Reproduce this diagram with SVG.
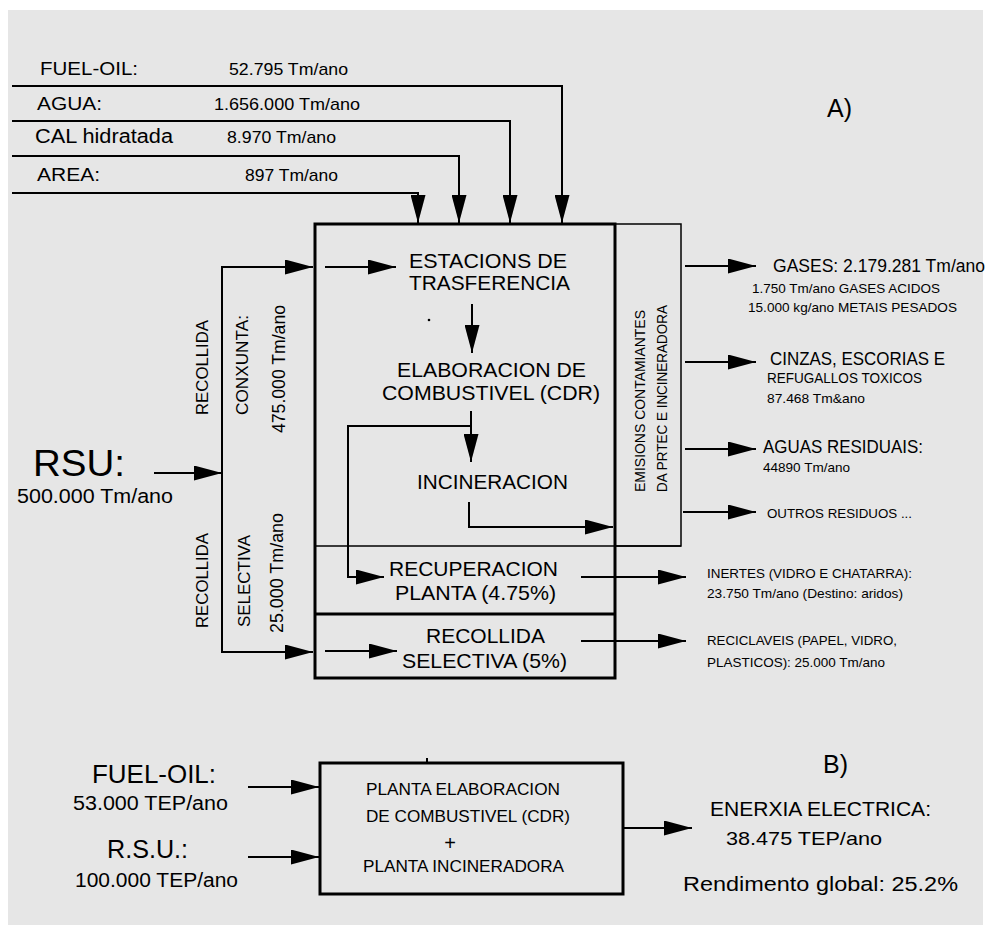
<svg xmlns="http://www.w3.org/2000/svg" width="989" height="933" viewBox="0 0 989 933">
<defs>
<marker id="ah" markerUnits="userSpaceOnUse" markerWidth="28" markerHeight="15" refX="28" refY="7.5" orient="auto" viewBox="0 0 28 15">
<path d="M0,0 L28,7.5 L0,15 z" fill="#000"/>
</marker>
<style>
text{font-family:"Liberation Sans",Arial,Helvetica,sans-serif;fill:#000}
.c{fill:none;stroke:#000;stroke-width:2}
.a{marker-end:url(#ah)}
.box{fill:none;stroke:#000;stroke-width:3}
.thin{fill:none;stroke:#000;stroke-width:1.5}
</style>
</defs>
<rect x="0" y="0" width="989" height="933" fill="#ffffff"/>
<rect x="8" y="10" width="975" height="915" fill="#e6e6e6"/>

<g id="inputs-top">
<text x="40" y="75" font-size="19" textLength="98" lengthAdjust="spacingAndGlyphs">FUEL-OIL:</text>
<text x="229" y="75" font-size="17" textLength="119" lengthAdjust="spacingAndGlyphs">52.795 Tm/ano</text>
<text x="37" y="110" font-size="19" textLength="65" lengthAdjust="spacingAndGlyphs">AGUA:</text>
<text x="214" y="110" font-size="17" textLength="146" lengthAdjust="spacingAndGlyphs">1.656.000 Tm/ano</text>
<text x="35" y="143" font-size="19.5" textLength="138" lengthAdjust="spacingAndGlyphs">CAL hidratada</text>
<text x="227" y="143" font-size="17" textLength="109" lengthAdjust="spacingAndGlyphs">8.970 Tm/ano</text>
<text x="37" y="181" font-size="19" textLength="63" lengthAdjust="spacingAndGlyphs">AREA:</text>
<text x="245" y="181" font-size="17" textLength="93" lengthAdjust="spacingAndGlyphs">897 Tm/ano</text>
</g>
<g id="label-A"><text x="827" y="117" font-size="25">A)</text></g>

<g id="rsu">
<text x="33" y="476" font-size="36" textLength="92" lengthAdjust="spacingAndGlyphs">RSU:</text>
<text x="17" y="503" font-size="20.5" textLength="156" lengthAdjust="spacingAndGlyphs">500.000 Tm/ano</text>
</g>

<g id="collection-labels">
<text transform="translate(208,367.5) rotate(-90)" text-anchor="middle" font-size="17" textLength="95" lengthAdjust="spacingAndGlyphs">RECOLLIDA</text>
<text transform="translate(248,365) rotate(-90)" text-anchor="middle" font-size="17" textLength="100" lengthAdjust="spacingAndGlyphs">CONXUNTA:</text>
<text transform="translate(285,369) rotate(-90)" text-anchor="middle" font-size="17.5" textLength="128" lengthAdjust="spacingAndGlyphs">475.000 Tm/ano</text>
<text transform="translate(208,580.5) rotate(-90)" text-anchor="middle" font-size="17" textLength="95" lengthAdjust="spacingAndGlyphs">RECOLLIDA</text>
<text transform="translate(250,581) rotate(-90)" text-anchor="middle" font-size="17" textLength="92" lengthAdjust="spacingAndGlyphs">SELECTIVA</text>
<text transform="translate(283,573) rotate(-90)" text-anchor="middle" font-size="17.5" textLength="120" lengthAdjust="spacingAndGlyphs">25.000 Tm/ano</text>
</g>

<g id="main-box">
<rect class="box" x="315" y="224" width="300" height="454"/>
<line class="thin" x1="315" y1="546" x2="681" y2="546"/>
<line class="box" x1="315" y1="614" x2="615" y2="614"/>
</g>

<g id="emissions-box">
<rect class="thin" x="615" y="224" width="66" height="322"/>
<text transform="translate(645,401) rotate(-90)" text-anchor="middle" font-size="14.5" textLength="182" lengthAdjust="spacingAndGlyphs">EMISIONS CONTAMIANTES</text>
<text transform="translate(667,398.5) rotate(-90)" text-anchor="middle" font-size="14.5" textLength="187" lengthAdjust="spacingAndGlyphs">DA PRTEC E INCINERADORA</text>
</g>

<g id="estacions">
<text x="409" y="268" font-size="21" textLength="158" lengthAdjust="spacingAndGlyphs">ESTACIONS DE</text>
<text x="409" y="290" font-size="21" textLength="161" lengthAdjust="spacingAndGlyphs">TRASFERENCIA</text>
</g>
<g id="elaboracion">
<text x="397" y="377" font-size="21" textLength="189" lengthAdjust="spacingAndGlyphs">ELABORACION DE</text>
<text x="382" y="400" font-size="21" textLength="218" lengthAdjust="spacingAndGlyphs">COMBUSTIVEL (CDR)</text>
</g>
<g id="incineracion">
<text x="417" y="489" font-size="21" textLength="151" lengthAdjust="spacingAndGlyphs">INCINERACION</text>
</g>
<g id="recuperacion">
<text x="389" y="576" font-size="21" textLength="169" lengthAdjust="spacingAndGlyphs">RECUPERACION</text>
<text x="395" y="600" font-size="21" textLength="161" lengthAdjust="spacingAndGlyphs">PLANTA (4.75%)</text>
</g>
<g id="recollida-selectiva">
<text x="426" y="643" font-size="21" textLength="119" lengthAdjust="spacingAndGlyphs">RECOLLIDA</text>
<text x="402" y="668" font-size="21" textLength="165" lengthAdjust="spacingAndGlyphs">SELECTIVA (5%)</text>
</g>

<g id="outputs">
<text x="773" y="272" font-size="17.5" textLength="212" lengthAdjust="spacingAndGlyphs">GASES: 2.179.281 Tm/ano</text>
<text x="752" y="293" font-size="13" textLength="188" lengthAdjust="spacingAndGlyphs">1.750 Tm/ano GASES ACIDOS</text>
<text x="748" y="312" font-size="13" textLength="209" lengthAdjust="spacingAndGlyphs">15.000 kg/ano METAIS PESADOS</text>
<text x="770" y="365" font-size="18.5" textLength="175" lengthAdjust="spacingAndGlyphs">CINZAS, ESCORIAS E</text>
<text x="767" y="383" font-size="14" textLength="155" lengthAdjust="spacingAndGlyphs">REFUGALLOS TOXICOS</text>
<text x="767" y="403" font-size="13.5" textLength="98" lengthAdjust="spacingAndGlyphs">87.468 Tm&amp;ano</text>
<text x="763" y="453" font-size="17.5" textLength="160" lengthAdjust="spacingAndGlyphs">AGUAS RESIDUAIS:</text>
<text x="763" y="472" font-size="13.5" textLength="87" lengthAdjust="spacingAndGlyphs">44890 Tm/ano</text>
<text x="767" y="518" font-size="13.5" textLength="145" lengthAdjust="spacingAndGlyphs">OUTROS RESIDUOS ...</text>
<text x="707" y="578" font-size="13.5" textLength="205" lengthAdjust="spacingAndGlyphs">INERTES (VIDRO E CHATARRA):</text>
<text x="707" y="598" font-size="13.5" textLength="196" lengthAdjust="spacingAndGlyphs">23.750 Tm/ano (Destino: aridos)</text>
<text x="707" y="645" font-size="13.5" textLength="190" lengthAdjust="spacingAndGlyphs">RECICLAVEIS (PAPEL, VIDRO,</text>
<text x="707" y="667" font-size="13.5" textLength="178" lengthAdjust="spacingAndGlyphs">PLASTICOS): 25.000 Tm/ano</text>
</g>

<g id="inputs-B">
<text x="92" y="783" font-size="25" textLength="124" lengthAdjust="spacingAndGlyphs">FUEL-OIL:</text>
<text x="73" y="810" font-size="19.5" textLength="155" lengthAdjust="spacingAndGlyphs">53.000 TEP/ano</text>
<text x="107" y="858" font-size="26" textLength="81" lengthAdjust="spacingAndGlyphs">R.S.U.:</text>
<text x="75" y="887" font-size="19.5" textLength="163" lengthAdjust="spacingAndGlyphs">100.000 TEP/ano</text>
</g>
<g id="label-B"><text x="823" y="773" font-size="25">B)</text></g>
<g id="plant-box">
<rect class="box" x="320" y="763" width="303" height="131"/>
<line x1="427" y1="758" x2="427" y2="763" stroke="#000" stroke-width="2"/>
<text x="366" y="795" font-size="17" textLength="194" lengthAdjust="spacingAndGlyphs">PLANTA ELABORACION</text>
<text x="366" y="822" font-size="17" textLength="204" lengthAdjust="spacingAndGlyphs">DE COMBUSTIVEL (CDR)</text>
<text x="450" y="850" font-size="20" text-anchor="middle">+</text>
<text x="363" y="872" font-size="17" textLength="201" lengthAdjust="spacingAndGlyphs">PLANTA INCINERADORA</text>
</g>
<g id="output-B">
<text x="710" y="816" font-size="19.5" textLength="221" lengthAdjust="spacingAndGlyphs">ENERXIA ELECTRICA:</text>
<text x="726" y="845" font-size="18.5" textLength="156" lengthAdjust="spacingAndGlyphs">38.475 TEP/ano</text>
<text x="683" y="891" font-size="20.5" textLength="275" lengthAdjust="spacingAndGlyphs">Rendimento global: 25.2%</text>
</g>

<g id="connectors">
<polyline class="c a" points="12,86 562,86 562,223"/>
<polyline class="c a" points="12,121 510,121 510,223"/>
<polyline class="c a" points="12,156 459,156 459,223"/>
<polyline class="c a" points="12,193 418,193 418,223"/>
<line class="c a" x1="154" y1="473" x2="222" y2="473"/>
<polyline class="c" points="313,267 222,267 222,652 313,652"/>
<line class="c a" x1="222" y1="267" x2="313" y2="267"/>
<line class="c a" x1="222" y1="652" x2="313" y2="652"/>
<line class="c a" x1="325" y1="267" x2="396" y2="267"/>
<line class="c a" x1="325" y1="651" x2="397" y2="651"/>
<line class="c a" x1="472" y1="304" x2="472" y2="353"/>
<line class="c a" x1="471" y1="411" x2="471" y2="462"/>
<polyline class="c a" points="471,426 348,426 348,577 384,577"/>
<polyline class="c a" points="469,502 469,527 613,527"/>
<line class="c a" x1="581" y1="577" x2="686" y2="577"/>
<line class="c a" x1="581" y1="641" x2="686" y2="641"/>
<line class="c a" x1="685" y1="266" x2="756" y2="266"/>
<line class="c a" x1="685" y1="362" x2="756" y2="362"/>
<line class="c a" x1="685" y1="449" x2="756" y2="449"/>
<line class="c a" x1="683" y1="512" x2="756" y2="512"/>
<line class="c a" x1="248" y1="787" x2="319" y2="787"/>
<line class="c a" x1="248" y1="857" x2="319" y2="857"/>
<line class="c a" x1="623" y1="828" x2="692" y2="828"/>
</g>
<circle cx="429" cy="320" r="1.3" fill="#000"/>
</svg>
